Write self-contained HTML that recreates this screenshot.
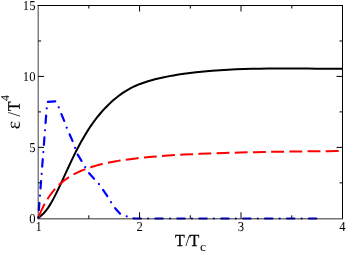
<!DOCTYPE html>
<html><head><meta charset="utf-8">
<style>
html,body{margin:0;padding:0;background:#fff;}
body{width:346px;height:253px;overflow:hidden;}
svg{display:block;}
text{font-family:"Liberation Serif",serif;fill:#000;}
svg{will-change:transform;transform:translateZ(0);}
</style></head><body>
<svg width="346" height="253" viewBox="0 0 346 253">
<rect width="346" height="253" fill="#fff"/>
<!-- curves -->
<g fill="none" stroke-linejoin="round">
<path id="blk" stroke="#000" stroke-width="2" d="M38.2,218.20 L40.7,215.90 L43.2,213.80 L45.7,211.00 L48.2,207.60 L50.7,203.63 L53.2,199.16 L55.7,194.36 L58.2,189.30 L60.7,184.03 L63.2,178.64 L65.7,173.19 L68.2,167.73 L70.7,162.35 L73.2,157.10 L75.7,152.05 L78.2,147.21 L80.7,142.57 L83.2,138.14 L85.7,133.90 L88.2,129.86 L90.7,126.05 L93.2,122.51 L95.7,119.16 L98.2,115.99 L100.7,112.99 L103.2,110.17 L105.7,107.52 L108.2,105.02 L110.7,102.60 L113.2,100.34 L115.7,98.23 L118.2,96.26 L120.7,94.42 L123.2,92.68 L125.7,91.07 L128.2,89.59 L130.7,88.20 L133.2,86.93 L135.7,85.76 L138.2,84.68 L140.0,83.96 L148.0,81.23 L156.0,79.06 L164.0,77.27 L172.0,75.64 L180.0,74.31 L188.0,73.20 L196.0,72.24 L204.0,71.42 L212.0,70.73 L220.0,70.15 L228.0,69.68 L236.0,69.31 L244.0,69.01 L252.0,68.80 L260.0,68.66 L268.0,68.57 L276.0,68.51 L284.0,68.51 L292.0,68.53 L300.0,68.57 L308.0,68.60 L316.0,68.64 L324.0,68.67 L332.0,68.67 L340.0,68.65 L342.5,68.64"/>
<path id="red" stroke="#f00" stroke-width="2" stroke-dasharray="12.9 5.3" stroke-dashoffset="15.25" d="M38.2,218.20 L40.2,213.07 L42.2,208.70 L44.2,204.75 L46.2,201.19 L48.2,197.96 L50.2,195.04 L52.2,192.39 L54.2,189.97 L56.2,187.75 L58.2,185.71 L60.2,183.84 L62.2,182.12 L64.2,180.53 L66.2,179.05 L68.2,177.69 L70.2,176.43 L72.2,175.25 L74.2,174.15 L76.2,173.12 L78.2,172.16 L80.2,171.26 L82.2,170.41 L84.2,169.61 L86.2,168.85 L88.2,168.13 L90.2,167.46 L92.2,166.82 L94.2,166.21 L96.2,165.63 L98.2,165.08 L100.2,164.55 L102.2,164.06 L104.2,163.59 L106.2,163.15 L108.2,162.72 L110.2,162.32 L112.2,161.93 L114.2,161.56 L116.2,161.21 L118.2,160.87 L120.0,160.57 L128.0,159.40 L136.0,158.40 L144.0,157.54 L152.0,156.78 L160.0,156.11 L168.0,155.54 L176.0,155.03 L184.0,154.58 L192.0,154.19 L200.0,153.83 L208.0,153.50 L216.0,153.21 L224.0,152.95 L232.0,152.71 L240.0,152.49 L248.0,152.30 L256.0,152.13 L264.0,151.97 L272.0,151.83 L280.0,151.70 L288.0,151.58 L296.0,151.48 L304.0,151.38 L312.0,151.29 L320.0,151.22 L328.0,151.15 L336.0,151.08 L342.5,151.04"/>
<path stroke="#f00" stroke-width="2" d="M38.2,218.2 L39.4,215.2"/>
<path id="blua" stroke="#00f" stroke-dasharray="7.4 7.22 0.01 7.22" stroke-dashoffset="14.0" stroke-linecap="round" stroke-width="2.2" d="M38.2,218.0 L47.2,101.9 L56.4,101.2"/>
<path id="blub" stroke="#00f" stroke-dasharray="7.4 7.22 0.01 7.22" stroke-dashoffset="8.05" stroke-linecap="round" stroke-width="2.2" d="M56.4,101.2 L61.0,113.0 L64.2,121.0 L66.6,127.5 L69.9,135.0 L72.5,140.9 L75.0,147.5 L77.4,154.0 L81.5,160.9 L85.0,166.9 L88.8,172.8 L94.5,179.2 L98.9,183.9 L102.7,189.5 L107.8,196.7 L111.1,202.3 L115.1,208.1 L120.5,214.2 L129.5,217.25"/>
<path id="bluc" stroke="#00f" stroke-dasharray="7.4 7.26 0.01 7.26" stroke-dashoffset="17.80" stroke-linecap="round" stroke-width="2.2" d="M129.5,217.25 L132.0,218.1 L135.0,218.5 L316.3,218.5"/>
</g>
<!-- frame and ticks -->
<g fill="none" stroke="#000" stroke-width="1">
<path d="M37.6,5.5H343M342.5,5V218.8"/>
<path d="M38.25,5V219" stroke-width="1.5" stroke-opacity="0.5"/>
<path d="M37.5,218.7H343" stroke-width="1.6" stroke-opacity="0.55"/>
</g>
<path id="ticks" fill="none" stroke="#000" stroke-width="1" d="M88.83,218.7v-3.4M88.83,5.5v3M139.57,218.7v-6.4M139.57,5.5v6M190.30,218.7v-3.4M190.30,5.5v3M241.03,218.7v-6.4M241.03,5.5v6M291.77,218.7v-3.4M291.77,5.5v3M38.1,182.83h3M342.5,182.83h-3M38.1,147.37h6M342.5,147.37h-6M38.1,111.90h3M342.5,111.90h-3M38.1,76.43h6M342.5,76.43h-6M38.1,40.97h3M342.5,40.97h-3"/>
<!-- labels -->
<g font-size="13.6">
<text transform="translate(35.45,10) rotate(0.05) scale(0.93,1)" text-anchor="end">15</text>
<text transform="translate(35.45,81) rotate(0.05) scale(0.93,1)" text-anchor="end">10</text>
<text transform="translate(35.45,152) rotate(0.05) scale(0.93,1)" text-anchor="end">5</text>
<text transform="translate(35.45,223) rotate(0.05) scale(0.93,1)" text-anchor="end">0</text>
<text transform="translate(38.6,231) rotate(0.05) scale(0.93,1)" text-anchor="middle">1</text>
<text transform="translate(139.6,231) rotate(0.05) scale(0.93,1)" text-anchor="middle">2</text>
<text transform="translate(241,231) rotate(0.05) scale(0.93,1)" text-anchor="middle">3</text>
<text transform="translate(342.4,231) rotate(0.05) scale(0.93,1)" text-anchor="middle">4</text>
</g>
<g id="xlab">
<text transform="translate(175.1,245.6) scale(0.91,1)" font-size="17.6" stroke="#000" stroke-width="0.3">T</text>
<text transform="translate(185.5,245.6) scale(0.9,1)" font-size="17.5">/</text>
<text transform="translate(189.6,245.6) scale(0.91,1)" font-size="17.6" stroke="#000" stroke-width="0.3">T</text>
<text transform="translate(199.9,251.4)" font-size="13.5">c</text>
</g>
<g transform="translate(19.7,128) rotate(-89.95)">
<text id="eps" transform="translate(-1.2,0) scale(1.04,1)" font-size="19.25">ε</text>
<text id="sl" transform="translate(11.6,0) scale(0.9,1)" font-size="17.5">/</text>
<text id="T1" transform="translate(16.85,0) scale(0.91,1)" font-size="17.6" stroke="#000" stroke-width="0.3">T</text>
<text id="s4" transform="translate(27.0,-10.84)" font-size="12">4</text>
</g>
</svg>
</body></html>
